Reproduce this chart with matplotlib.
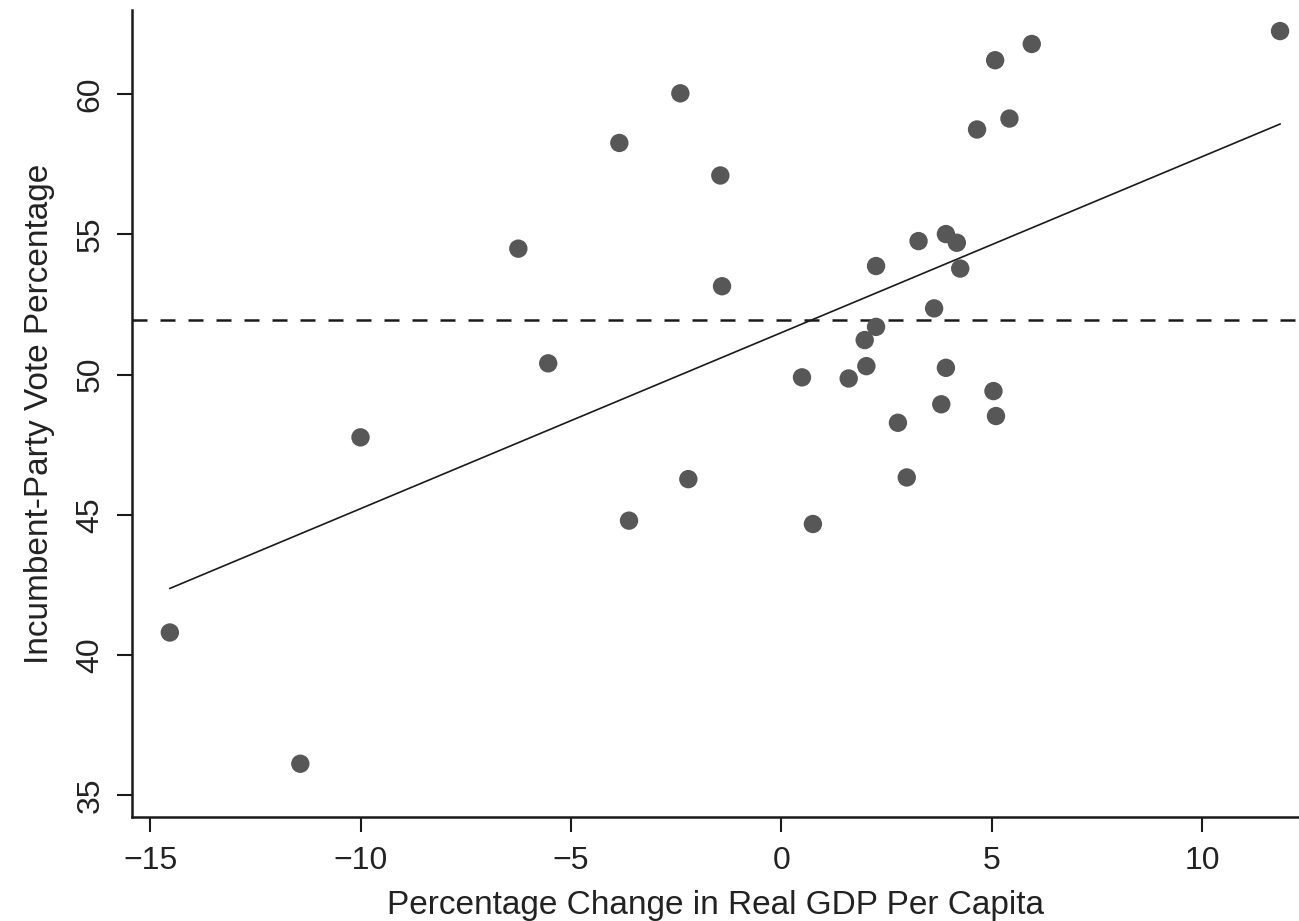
import numpy as np
import matplotlib
matplotlib.use("Agg")
import matplotlib.pyplot as plt

plt.rcParams['font.family'] = ['Liberation Sans', 'DejaVu Sans']

# Data
gdp_change = [-14.53, -11.43, -10.00, -6.25, -5.54, -3.85, -3.62, -2.40, -2.21,
              -1.45, -1.41, 0.49, 0.75, 1.60, 2.02, 1.98, 2.25, 2.25, 2.77,
              2.98, 3.26, 3.63, 3.80, 3.91, 3.91, 4.17, 4.25, 4.65, 5.04,
              5.10, 5.08, 5.42, 5.95, 11.85]
vote_pct = [40.80, 36.12, 47.76, 54.49, 50.40, 58.26, 44.79, 60.03, 46.27,
            57.10, 53.15, 49.90, 44.67, 49.86, 50.30, 51.23, 51.70, 53.87, 48.28,
            46.33, 54.76, 52.36, 48.94, 50.24, 55.01, 54.70, 53.78, 58.74, 49.41,
            48.52, 61.21, 59.13, 61.79, 62.25]
x_ticks = [-15, -10, -5, 0, 5, 10]
y_ticks = [35, 40, 45, 50, 55, 60]
x_label = "Percentage Change in Real GDP Per Capita"
y_label = "Incumbent-Party Vote Percentage"

x = np.array(gdp_change)
y = np.array(vote_pct)
slope, intercept = np.polyfit(x, y, 1)
mean_vote = y.mean()

fig = plt.figure(figsize=(12.99, 9.21), dpi=100)
ax = fig.add_axes([0.1016, 0.1129, 0.8984, 0.8762])

ax.axhline(mean_vote, color='#1a1a1a', lw=1.8, linestyle=(0, (6, 5.2)), zorder=1)
xs = np.array([x.min(), x.max()])
ax.plot(xs, intercept + slope * xs, color='#1a1a1a', lw=1.2, zorder=2)
ax.scatter(x, y, s=175, color='#575757', edgecolors='none', zorder=3)

ax.set_xlim(-15.43, 12.3)
ax.set_ylim(34.22, 63.0)
ax.set_xticks(x_ticks)
ax.set_yticks(y_ticks)
ax.set_yticklabels([str(v) for v in y_ticks], rotation=90, va='center')

for s in ['top', 'right']:
    ax.spines[s].set_visible(False)
for s in ['left', 'bottom']:
    ax.spines[s].set_linewidth(1.8)
    ax.spines[s].set_color('#1a1a1a')

ax.tick_params(axis='both', direction='out', length=11, width=1.5,
               colors='#1a1a1a', labelsize=23, labelcolor='#222222')
ax.tick_params(axis='x', pad=10)
ax.tick_params(axis='y', pad=8)

ax.set_xlabel(x_label, fontsize=24, color='#222222', labelpad=10)
ax.set_ylabel(y_label, fontsize=24, color='#222222', labelpad=15)

fig.savefig("out.png", dpi=100, facecolor='white')
